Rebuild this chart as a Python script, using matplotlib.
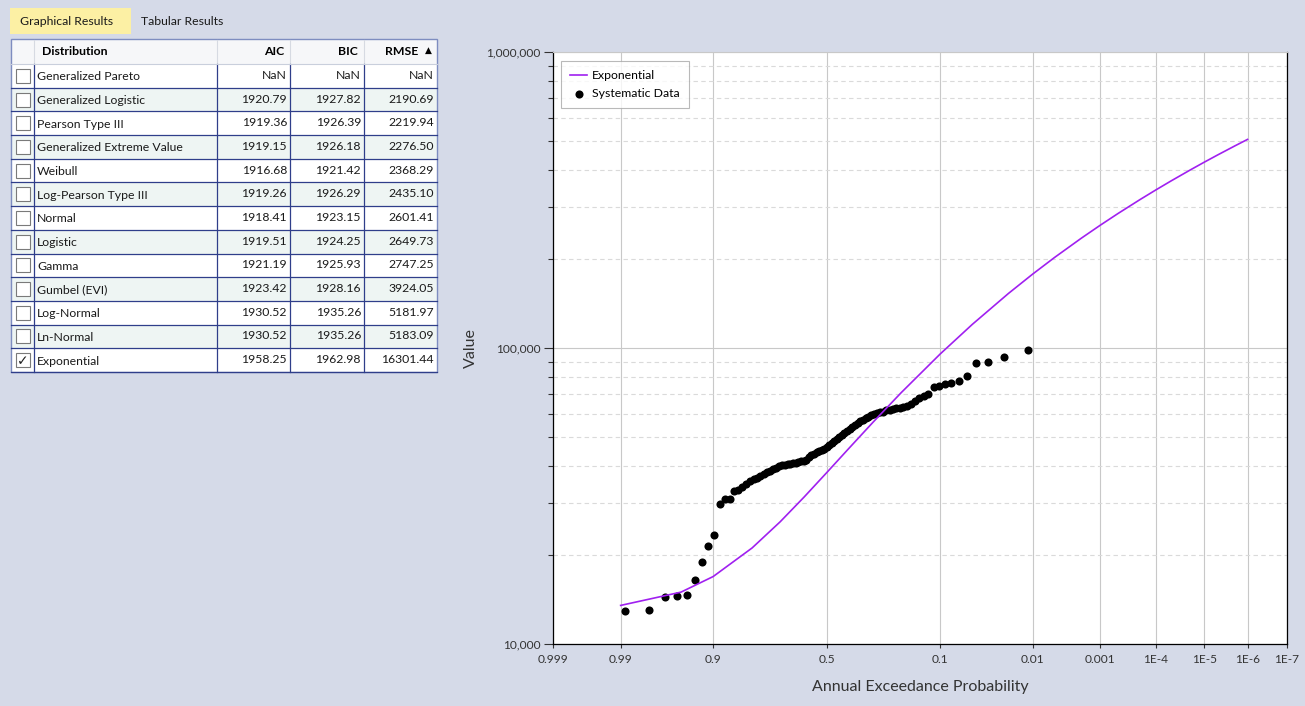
import numpy as np
import matplotlib
matplotlib.use("Agg")
import matplotlib.pyplot as plt
from matplotlib.patches import Rectangle
from matplotlib.ticker import FixedLocator, NullLocator, FuncFormatter, LogLocator, NullFormatter
from statistics import NormalDist

# ── goodness-of-fit table ──────────────────────────────────────────────────
DISTS = ["Generalized Pareto", "Generalized Logistic", "Pearson Type III",
         "Generalized Extreme Value", "Weibull", "Log-Pearson Type III", "Normal",
         "Logistic", "Gamma", "Gumbel (EVI)", "Log-Normal", "Ln-Normal", "Exponential"]
AIC = [np.nan, 1920.79, 1919.36, 1919.15, 1916.68, 1919.26, 1918.41,
       1919.51, 1921.19, 1923.42, 1930.52, 1930.52, 1958.25]
BIC = [np.nan, 1927.82, 1926.39, 1926.18, 1921.42, 1926.29, 1923.15,
       1924.25, 1925.93, 1928.16, 1935.26, 1935.26, 1962.98]
RMSE = [np.nan, 2190.69, 2219.94, 2276.50, 2368.29, 2435.10, 2601.41,
        2649.73, 2747.25, 3924.05, 5181.97, 5183.09, 16301.44]
CHECKED = ["Exponential"]

# ── fitted exponential quantiles (AEP -> value) ────────────────────────────
FIT_AEP = [0.99, 0.95, 0.9, 0.8, 0.7, 0.6, 0.5, 0.4, 0.3, 0.2, 0.1, 0.05, 0.02,
           0.01, 0.005, 0.002, 0.001, 5e-4, 2e-4, 1e-4, 5e-5, 2e-5, 1e-5,
           5e-6, 2e-6, 1e-6]
FIT_VAL = [13500, 14970, 16900, 21110, 25880, 31390, 37900, 45870, 56150,
           70630, 95390, 120140, 152880, 177640, 202400, 235130, 259880,
           284640, 317370, 342130, 366890, 399620, 424380, 449140, 481870,
           506630]

# ── systematic data, ranked largest first ──────────────────────────────────
OBS = [98700, 93500, 89700, 88700, 80400, 77100, 75900, 75500, 74600, 73600,
       70100, 69000, 68000, 66000, 64600, 63800, 63300, 62900, 62500, 62200,
       61900, 61500, 61000, 60600, 60200, 59800, 59200, 58500, 57800, 57200,
       56600, 55900, 55000, 54000, 53300, 52500, 51700, 50900, 50100, 49300,
       48400, 47600, 46900, 46200, 45600, 45200, 44800, 44400, 44000, 43600,
       42800, 42000, 41600, 41400, 41200, 41000, 40800, 40700, 40500, 40300,
       40100, 39800, 39400, 39000, 38500, 38000, 37500, 37000, 36500, 36000,
       35400, 34700, 33800, 33200, 32900, 31000, 30800, 29700, 23400, 21500,
       18900, 16400, 14600, 14500, 14450, 13000, 12950]

X_TICKS = [0.999, 0.99, 0.9, 0.5, 0.1, 0.01, 0.001, 1e-4, 1e-5, 1e-6, 1e-7]
X_LABELS = ["0.999", "0.99", "0.9", "0.5", "0.1", "0.01", "0.001",
            "1E-4", "1E-5", "1E-6", "1E-7"]

BG = "#D5DAE8"
PURPLE = "#A020F0"
FONT = ["Lato", "DejaVu Sans"]
W, H = 1305, 706

plt.rcParams.update({"font.family": FONT, "font.size": 8.8})

fig = plt.figure(figsize=(W / 100, H / 100), dpi=100, facecolor=BG)

# ── left panel: tabs + table, drawn in pixel coordinates ───────────────────
ui = fig.add_axes([0, 0, 1, 1], zorder=0)
ui.set_xlim(0, W)
ui.set_ylim(H, 0)
ui.axis("off")

ui.add_patch(Rectangle((10, 8), 121, 26, fc="#FCF0A4", ec="none"))
ui.text(20, 21.5, "Graphical Results", va="center", ha="left", fontsize=8.8, color="#1a1a1a")
ui.text(141, 21.5, "Tabular Results", va="center", ha="left", fontsize=8.8, color="#1a1a1a")

COLS = [11, 34, 217, 290, 364, 437]
TOP, HEAD_BOT, BOT = 39, 64, 372
row_h = (BOT - HEAD_BOT) / len(DISTS)
NAVY = "#2F3E8A"

ui.add_patch(Rectangle((COLS[0], TOP), COLS[-1] - COLS[0], HEAD_BOT - TOP,
                       fc="#F6F7F9", ec="none"))
for c in COLS[1:-1]:
    ui.plot([c, c], [TOP + 1, HEAD_BOT], color="#D6DAE2", lw=0.8)
ui.text(42, (TOP + HEAD_BOT) / 2, "Distribution", fontweight="bold", va="center", ha="left")
ui.text(284, (TOP + HEAD_BOT) / 2, "AIC", fontweight="bold", va="center", ha="right")
ui.text(358, (TOP + HEAD_BOT) / 2, "BIC", fontweight="bold", va="center", ha="right")
ui.text(418, (TOP + HEAD_BOT) / 2, "RMSE", fontweight="bold", va="center", ha="right")
ui.text(428, (TOP + HEAD_BOT) / 2 - 1, "▲", va="center", ha="center", fontsize=6.5,
        family=["DejaVu Sans"])

def fmt(v):
    return "NaN" if np.isnan(v) else f"{v:.2f}"

for k, name in enumerate(DISTS):
    y0 = HEAD_BOT + k * row_h
    yc = y0 + row_h / 2
    fc = "white" if k % 2 == 0 else "#EEF5F3"
    ui.add_patch(Rectangle((COLS[0], y0), COLS[-1] - COLS[0], row_h, fc=fc, ec="none"))
    ui.plot([COLS[0], COLS[-1]], [y0 + row_h, y0 + row_h], color=NAVY, lw=0.9)
    ui.add_patch(Rectangle((16, yc - 7), 14, 14, fc="white", ec="#7A7A7A", lw=0.8))
    if name in CHECKED:
        ui.text(23, yc + 0.5, "✓", va="center", ha="center", fontsize=10,
                family=["DejaVu Sans"], color="#222222")
    ui.text(37, yc + 1, name, va="center", ha="left", color="#1a1a1a")
    for val, right in zip((AIC[k], BIC[k], RMSE[k]), COLS[3:]):
        ui.text(right - 3, yc - 0.5, fmt(val), va="center", ha="right", color="#1a1a1a")

for c in COLS[1:-1]:
    ui.plot([c, c], [HEAD_BOT, BOT], color=NAVY, lw=0.9)
ui.plot([COLS[0], COLS[-1]], [HEAD_BOT, HEAD_BOT], color="#C9CFDC", lw=0.8)
ui.add_patch(Rectangle((COLS[0], TOP), COLS[-1] - COLS[0], BOT - TOP,
                       fc="none", ec="#7E8DC0", lw=1.0))

# ── frequency plot on normal-probability x scale ───────────────────────────
_nd = NormalDist()
_ppf = np.vectorize(_nd.inv_cdf, otypes=[float])
_cdf = np.vectorize(_nd.cdf, otypes=[float])

def fwd(p):
    return _ppf(np.clip(np.asarray(p, dtype=float), 1e-15, 1 - 1e-15))

def inv(z):
    return _cdf(np.asarray(z, dtype=float))

ax = fig.add_axes([553 / W, 1 - 644 / H, (1287 - 553) / W, (644 - 52) / H], zorder=2)
ax.set_facecolor("white")
ax.set_xscale("function", functions=(fwd, inv))
ax.set_yscale("log")

n = len(OBS)
pp = np.arange(1, n + 1) / (n + 1)          # Weibull plotting positions

ax.plot(FIT_AEP, FIT_VAL, color=PURPLE, lw=1.2, zorder=4, label="Exponential")
ax.scatter(pp, OBS, s=34, color="black", zorder=3, linewidths=0, label="Systematic Data")

ax.set_xlim(1e-7, 0.999)
ax.invert_xaxis()
ax.set_ylim(1e4, 1e6)

ax.xaxis.set_major_locator(FixedLocator(X_TICKS))
ax.set_xticklabels(X_LABELS)
ax.xaxis.set_minor_locator(NullLocator())
ax.yaxis.set_major_locator(LogLocator(base=10))
ax.yaxis.set_minor_locator(LogLocator(base=10, subs=range(2, 10)))
ax.yaxis.set_major_formatter(FuncFormatter(lambda v, _: f"{v:,.0f}"))
ax.yaxis.set_minor_formatter(NullFormatter())

ax.grid(True, which="major", color="#C8C8C8", lw=0.8, ls="-")
ax.grid(True, which="minor", axis="y", color="#DADADA", lw=0.8, ls=(0, (4, 3)))
ax.set_axisbelow(True)

ax.tick_params(axis="y", which="major", length=6.5, width=0.8, pad=2.5, labelsize=8.6,
               colors="#333333")
ax.tick_params(axis="y", which="minor", length=3.6, width=0.8, color="#333333")
ax.tick_params(axis="x", which="major", length=3, width=0.8, pad=4, labelsize=8.6,
               colors="#333333")

for s in ("left", "bottom", "right"):
    ax.spines[s].set_color("black")
    ax.spines[s].set_linewidth(0.9)
ax.spines["top"].set_color("#C8C8C8")
ax.spines["top"].set_linewidth(0.8)

ax.set_xlabel("Annual Exceedance Probability", fontsize=11.5, color="#333333", labelpad=11)
ax.set_ylabel("Value", fontsize=11.5, color="#333333", labelpad=6)

leg = ax.legend(loc="upper left", bbox_to_anchor=(0.011, 0.985), borderaxespad=0,
                fontsize=8.8, frameon=True, fancybox=False, handlelength=1.4,
                handletextpad=0.4, borderpad=0.75, labelspacing=0.55)
leg.get_frame().set_edgecolor("#A8A8A8")
leg.get_frame().set_linewidth(0.8)

fig.savefig("out.png", dpi=100, facecolor=BG)
